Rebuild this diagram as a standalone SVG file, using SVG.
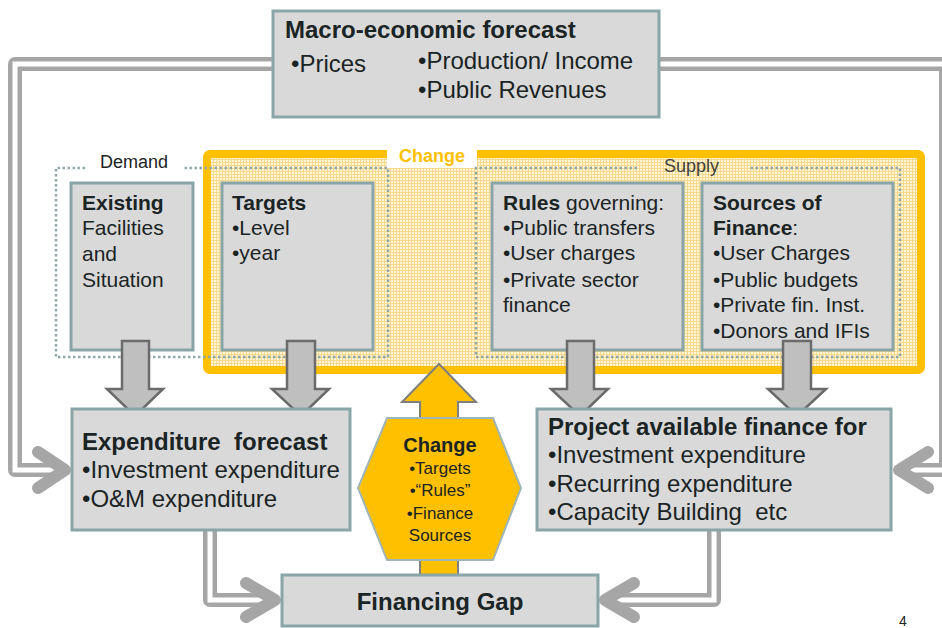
<svg xmlns="http://www.w3.org/2000/svg" width="942" height="628" viewBox="0 0 942 628">
<defs>
<pattern id="grid" width="3" height="3" patternUnits="userSpaceOnUse">
<rect width="3" height="3" fill="#fff5d8"/>
<path d="M0 0.5H3M0.5 0V3" stroke="#f6d98a" stroke-width="1"/>
</pattern>
</defs>
<style>
text{font-family:"Liberation Sans",Arial,sans-serif;fill:#1b2424;white-space:pre}
.b{font-weight:bold}
.box{fill:#d9d9d9;stroke:#8aa5a8;stroke-width:3}
.dot{fill:none;stroke:#8fa9ab;stroke-width:2.5;stroke-dasharray:2.5 2.5}
.dl{fill:none;stroke:#a6a6a6;stroke-width:14;stroke-linejoin:round}
.dw{fill:none;stroke:#ffffff;stroke-width:5;stroke-linejoin:miter}
.chev{fill:none;stroke:#a6a6a6;stroke-width:12;stroke-linecap:round;stroke-linejoin:round}
.down{fill:#bfbfbf;stroke:#6b6b6b;stroke-width:2.5}
.t21{font-size:21px}
.t24{font-size:24px}
</style>
<rect width="942" height="628" fill="#ffffff"/>

<g id="connectors">
<path class="dl" d="M280 64H15V470H62"/>
<path class="dw" d="M280 64H15V470H58"/>
<polyline class="chev" points="38,452 65,470 38,488"/>
<path class="dl" d="M650 64H946V470H902"/>
<path class="dw" d="M650 64H946V470H906"/>
<polyline class="chev" points="928,452 899,470 928,488"/>
<path class="dl" d="M210 520V600H272"/>
<path class="dw" d="M210 520V600H268"/>
<polyline class="chev" points="246,583 275,600 246,617"/>
<path class="dl" d="M714 520V600H608"/>
<path class="dw" d="M714 520V600H612"/>
<polyline class="chev" points="634,583 605,600 634,617"/>
</g>

<g id="change-frame">
<rect x="207" y="154" width="714" height="216" rx="3" fill="url(#grid)" stroke="#ffc000" stroke-width="8"/>
<rect x="387" y="146" width="90" height="22" fill="#ffffff"/>
<text x="432" y="162" class="b" font-size="18" text-anchor="middle" style="fill:#ffc000">Change</text>
</g>

<g id="demand">
<path class="dot" d="M85 168H56V357H388V168H184"/>
<text x="100" y="168" font-size="18">Demand</text>
</g>

<g id="supply">
<path class="dot" d="M637 168H476V357H900V168H748"/>
<text x="664" y="172" font-size="18" style="fill:#404040">Supply</text>
</g>

<g id="macro">
<rect class="box" x="273" y="11" width="386" height="106"/>
<text x="285" y="38" class="b t24">Macro-economic forecast</text>
<text x="291" y="72" class="t24">•Prices</text>
<text x="418" y="69" class="t24">•Production/ Income</text>
<text x="418" y="98" class="t24">•Public Revenues</text>
</g>

<g id="existing">
<rect class="box" x="71" y="183" width="122" height="167"/>
<text x="82" y="210" class="b t21">Existing</text>
<text x="82" y="235" class="t21">Facilities</text>
<text x="82" y="261" class="t21">and</text>
<text x="82" y="287" class="t21">Situation</text>
</g>

<g id="targets">
<rect class="box" x="222" y="183" width="151" height="167"/>
<text x="232" y="210" class="b t21">Targets</text>
<text x="232" y="235" class="t21">•Level</text>
<text x="232" y="260" class="t21">•year</text>
</g>

<g id="rules">
<rect class="box" x="492" y="183" width="191" height="167"/>
<text x="503" y="210" class="t21"><tspan class="b">Rules</tspan> governing:</text>
<text x="503" y="235" class="t21">•Public transfers</text>
<text x="503" y="260" class="t21">•User charges</text>
<text x="503" y="287" class="t21">•Private sector</text>
<text x="503" y="312" class="t21">finance</text>
</g>

<g id="sources">
<rect class="box" x="702" y="183" width="191" height="167"/>
<text x="713" y="210" class="b t21">Sources of</text>
<text x="713" y="235" class="t21"><tspan class="b">Finance</tspan>:</text>
<text x="713" y="260" class="t21">•User Charges</text>
<text x="713" y="287" class="t21">•Public budgets</text>
<text x="713" y="312" class="t21">•Private fin. Inst.</text>
<text x="713" y="338" class="t21">•Donors and IFIs</text>
</g>

<g id="down-arrows">
<polygon class="down" points="122,341 149,341 149,389 163,389 135,416 107,389 122,389"/>
<polygon class="down" points="287,341 315,341 315,389 329,389 301,416 272,389 287,389"/>
<polygon class="down" points="567,341 594,341 594,389 608,389 580,416 551,389 567,389"/>
<polygon class="down" points="783,341 811,341 811,389 826,389 797,416 768,389 783,389"/>
</g>

<g id="expenditure">
<rect class="box" x="72" y="409" width="278" height="121"/>
<text x="82" y="450" class="b t24">Expenditure  forecast</text>
<text x="82" y="478" class="t24">•Investment expenditure</text>
<text x="82" y="507" class="t24">•O&amp;M expenditure</text>
</g>

<g id="project">
<rect class="box" x="537" y="409" width="354" height="121"/>
<text x="548" y="435" class="b t24">Project available finance for</text>
<text x="548" y="463" class="t24">•Investment expenditure</text>
<text x="548" y="492" class="t24">•Recurring expenditure</text>
<text x="548" y="520" class="t24">•Capacity Building  etc</text>
</g>

<g id="change-hex">
<polygon points="439,364 476,402 458,402 458,576 420,576 420,402 402,402" fill="#ffc000" stroke="#7f7f7f" stroke-width="2"/>
<polygon points="387,418 493,418 521,488 493,560 387,560 358,488" fill="#ffc000" stroke="#9fb5b8" stroke-width="2"/>
<text x="440" y="452" class="b" font-size="20" text-anchor="middle">Change</text>
<text x="440" y="474" font-size="17" text-anchor="middle">•Targets</text>
<text x="440" y="496" font-size="17" text-anchor="middle">•“Rules”</text>
<text x="440" y="519" font-size="17" text-anchor="middle">•Finance</text>
<text x="440" y="541" font-size="17" text-anchor="middle">Sources</text>
</g>

<g id="financing-gap">
<rect class="box" x="282" y="575" width="316" height="51"/>
<text x="440" y="610" class="b t24" text-anchor="middle">Financing Gap</text>
</g>

<text x="899" y="626" font-size="14">4</text>
</svg>
